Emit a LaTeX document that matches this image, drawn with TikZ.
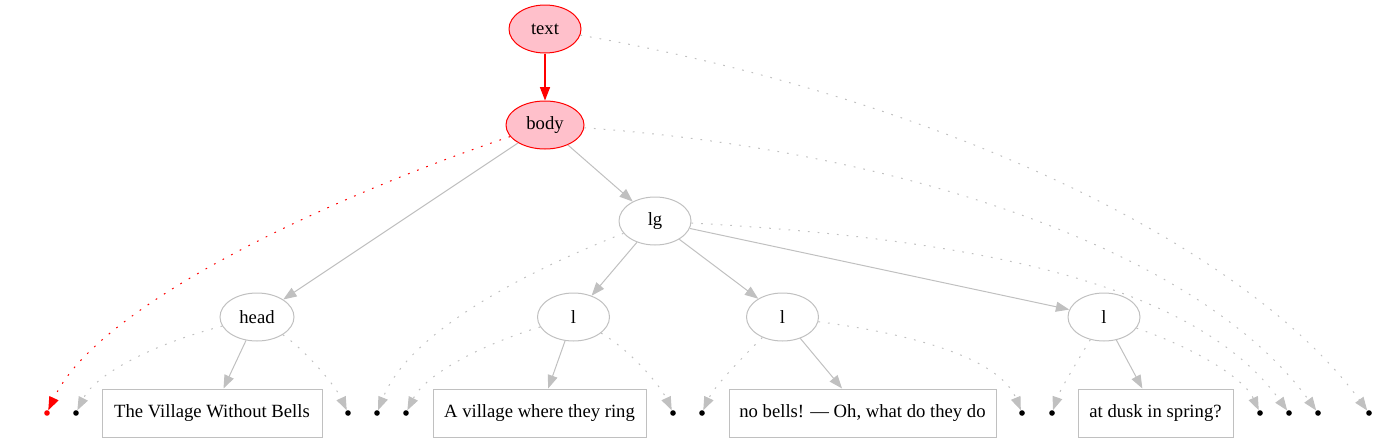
\documentclass[tikz,border=0pt]{standalone}
\usepackage{fontspec}
\setmainfont{Liberation Serif}
\usetikzlibrary{arrows.meta,shapes.geometric}
\definecolor{gvgray}{RGB}{192,192,192}
\definecolor{gvpink}{RGB}{255,192,203}
\begin{document}
\begin{tikzpicture}[x=0.75pt,y=-0.75pt,
  font=\fontsize{14}{16}\selectfont,
  ell/.style={ellipse, draw=gvgray, minimum height=36pt, minimum width=54pt, inner sep=0pt, line width=0.75pt},
  redell/.style={ell, draw=red, fill=gvpink},
  txtbox/.style={rectangle, draw=gvgray, minimum height=36pt, inner sep=0pt, line width=0.75pt},
  dotnode/.style={circle, fill=black, minimum size=4.2pt, inner sep=0pt},
  tree/.style={draw=gvgray, line width=0.75pt, -{Triangle[length=10pt,width=7.5pt]}},
  link/.style={tree, dash pattern=on 1.3pt off 6pt},
  redtree/.style={tree, draw=red, line width=0.9pt},
  redlink/.style={link, draw=red}]
\useasboundingbox (0,0) rectangle (1376,443);
% ellipses
\node[redell] (text) at (545,29) {text};
\node[redell, minimum width=58.5pt] (body) at (545,125) {body};
\node[ell] (lg) at (655,221) {lg};
\node[ell, minimum width=55.5pt] (head) at (257,317) {head};
\node[ell] (l1) at (573.5,317) {l};
\node[ell] (l2) at (782.5,317) {l};
\node[ell] (l3) at (1104,317) {l};
% boxes
\node[txtbox, minimum width=165pt] (b1) at (212,413) {The Village Without Bells};
\node[txtbox, minimum width=159.75pt] (b2) at (539.5,413) {A village where they ring};
\node[txtbox, minimum width=200.25pt] (b3) at (862.5,413) {no bells! — Oh, what do they do};
\node[txtbox, minimum width=116.25pt] (b4) at (1155.5,413) {at dusk in spring?};
% points
\node[dotnode, fill=red] (d0) at (47,413) {};
\node[dotnode] (d1) at (76,413) {};
\node[dotnode] (d2) at (348,413) {};
\node[dotnode] (d3) at (377,413) {};
\node[dotnode] (d4) at (406,413) {};
\node[dotnode] (d5) at (673,413) {};
\node[dotnode] (d6) at (702,413) {};
\node[dotnode] (d7) at (1022,413) {};
\node[dotnode] (d8) at (1052,413) {};
\node[dotnode] (d9) at (1260,413) {};
\node[dotnode] (d10) at (1289,413) {};
\node[dotnode] (d11) at (1318,413) {};
\node[dotnode] (d12) at (1369,413) {};
% tree edges
\draw[redtree] (text) -- (body);
\draw[tree] (body) -- (head);
\draw[tree] (body) -- (lg);
\draw[tree] (lg) -- (l1);
\draw[tree] (lg) -- (l2);
\draw[tree] (lg) -- (l3);
\draw[tree] (head) -- (b1);
\draw[tree] (l1) -- (b2);
\draw[tree] (l2) -- (b3);
\draw[tree] (l3) -- (b4);
% dotted links
\draw[link] (text) .. controls (950,100) and (1250,250) .. (d12);
\draw[redlink] (body) .. controls (350,190) and (100,300) .. (d0);
\draw[link] (body) .. controls (900,150) and (1200,250) .. (d11);
\draw[link] (lg) .. controls (530,270) and (410,330) .. (d3);
\draw[link] (lg) .. controls (1000,240) and (1200,290) .. (d10);
\draw[link] (head) .. controls (150,345) and (95,375) .. (d1);
\draw[link] (head) .. controls (305,350) and (335,385) .. (d2);
\draw[link] (l1) .. controls (480,345) and (425,375) .. (d4);
\draw[link] (l1) .. controls (630,350) and (660,385) .. (d5);
\draw[link] (l2) .. controls (745,355) and (715,385) .. (d6);
\draw[link] (l2) .. controls (920,335) and (1000,360) .. (d7);
\draw[link] (l3) .. controls (1075,365) and (1060,390) .. (d8);
\draw[link] (l3) .. controls (1200,350) and (1245,380) .. (d9);
\end{tikzpicture}
\end{document}
